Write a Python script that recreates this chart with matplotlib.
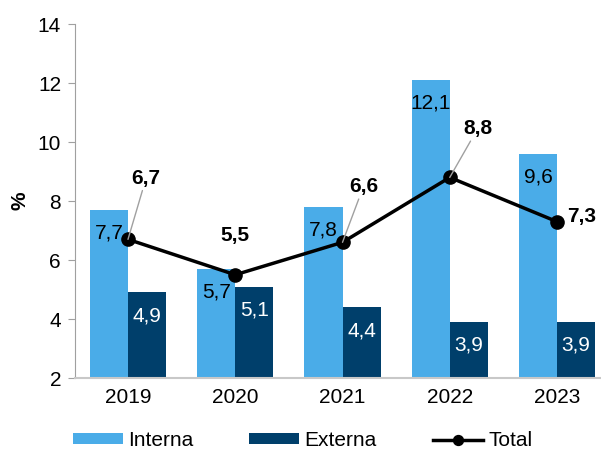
import numpy as np
import matplotlib.pyplot as plt

plt.rcParams['font.family'] = ['Liberation Sans', 'DejaVu Sans']

anos = ['2019', '2020', '2021', '2022', '2023']
interna = [7.7, 5.7, 7.8, 12.1, 9.6]
externa = [4.9, 5.1, 4.4, 3.9, 3.9]
total = [6.7, 5.5, 6.6, 8.8, 7.3]

cor_interna = '#4aace8'
cor_externa = '#003f6b'
fs = 15

fig = plt.figure(figsize=(6.01, 4.49), dpi=100)
ax = fig.add_axes([0.1248, 0.1581, 0.8752, 0.7884])

x = np.arange(len(anos))
w = 0.355
b1 = ax.bar(x - w / 2, np.array(interna) - 2, w, bottom=2, color=cor_interna, label='Interna')
b2 = ax.bar(x + w / 2, np.array(externa) - 2, w, bottom=2, color=cor_externa, label='Externa')
ln, = ax.plot(x, total, color='black', linewidth=2.5, marker='o', markersize=9.5, label='Total', zorder=5)

def fmt(v):
    return f'{v:.1f}'.replace('.', ',')

for xi, v in zip(x, interna):
    ax.annotate(fmt(v), (xi - w / 2, v), xytext=(0, -10), textcoords='offset points',
                ha='center', va='top', fontsize=fs, color='black')
for xi, v in zip(x, externa):
    ax.annotate(fmt(v), (xi + w / 2, v), xytext=(0, -10), textcoords='offset points',
                ha='center', va='top', fontsize=fs, color='white')

# rótulos do total (deslocamento em pontos)
desloc = [(13, 44), (0, 28), (15, 40), (20, 35), (18, 4)]
guia = [True, False, True, True, False]
for xi, v, d, g in zip(x, total, desloc, guia):
    props = dict(arrowstyle='-', color='#a0a0a0', lw=1, shrinkA=0, shrinkB=0) if g else None
    ax.annotate(fmt(v), (xi, v), xytext=d, textcoords='offset points',
                ha='center', va='center', fontsize=fs, fontweight='bold',
                arrowprops=props, zorder=6)

ax.set_xlim(-0.494, 4.41)
ax.set_ylim(2, 14)
ax.set_yticks(range(2, 15, 2))
ax.set_xticks(x)
ax.set_xticklabels(anos)
ax.tick_params(axis='x', length=0, labelsize=fs, pad=7)
ax.tick_params(axis='y', length=5, color='#a0a0a0', labelsize=fs, pad=5)
ax.set_ylabel('%', fontsize=fs, fontweight='bold', labelpad=6)

for s in ['top', 'right']:
    ax.spines[s].set_visible(False)
ax.spines['left'].set_color('#a0a0a0')
ax.spines['bottom'].set_color('#c8c8c8')
ax.spines['bottom'].set_linewidth(1.5)

fig.legend(handles=[b1, b2, ln], loc='center left', bbox_to_anchor=(0.121, 0.019), ncol=3,
           frameon=False, fontsize=fs, handlelength=2.4, handleheight=0.4, handletextpad=0.25,
           columnspacing=2.7, borderpad=0, borderaxespad=0, markerscale=0.75)

fig.savefig('out.png', dpi=100)
